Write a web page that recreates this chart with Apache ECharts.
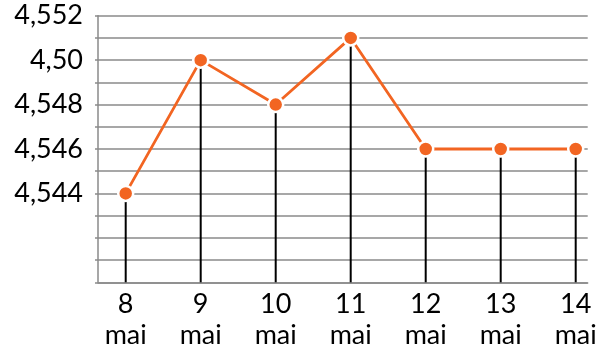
<!DOCTYPE html>
<html>
<head>
<meta charset="utf-8">
<script src="https://cdn.jsdelivr.net/npm/echarts@6/dist/echarts.min.js"></script>
<style>
  html, body { margin: 0; padding: 0; background: #fff; }
  #chart { width: 605px; height: 347px; }
</style>
</head>
<body>
<div id="chart"></div>
<script>
// Daily values, 8–14 May
const categories = ['8\nmai', '9\nmai', '10\nmai', '11\nmai', '12\nmai', '13\nmai', '14\nmai'];
const values = [4.544, 4.550, 4.548, 4.551, 4.546, 4.546, 4.546];

// Y axis range and the labelled ticks
const yMin = 4.540;
const yMax = 4.552;
const yStep = 0.001;
const yTickValues = [4.544, 4.546, 4.548, 4.550, 4.552];
const yTickLabels = ['4,544', '4,546', '4,548', '4,50', '4,552'];

const font = 'Lato, "Open Sans", sans-serif';
const gridColor = '#8a8a8a';
const lineColor = '#f26522';

const chart = echarts.init(document.getElementById('chart'), null, { renderer: 'canvas' });

function yLabel(v) {
  const idx = yTickValues.findIndex(t => Math.abs(t - v) < 1e-7);
  return idx >= 0 ? yTickLabels[idx] : '';
}

const plotTop = 15.7, plotBottom = 347 - 282.3;

chart.setOption({
  animation: false,
  backgroundColor: '#fff',
  grid: [
    // frame with the value axis and horizontal grid lines
    { left: 98, right: 17.3, top: plotTop, bottom: plotBottom, outerBoundsMode: 'none', containLabel: false },
    // plotting area whose ends sit on the first and last day
    { left: 125.7, right: 29.3, top: plotTop, bottom: plotBottom, outerBoundsMode: 'none', containLabel: false }
  ],
  xAxis: [
    {
      gridIndex: 0, type: 'value', min: 0, max: 1,
      axisLine: { show: true, lineStyle: { color: gridColor, width: 1.5 } },
      axisTick: { show: false }, axisLabel: { show: false }, splitLine: { show: false }
    },
    {
      gridIndex: 1, type: 'category', data: categories, boundaryGap: false,
      axisLine: { show: false }, axisTick: { show: false },
      axisLabel: {
        color: '#000', fontFamily: font, fontSize: 27, lineHeight: 31,
        margin: 6, interval: 0
      },
      splitLine: { show: false }
    }
  ],
  yAxis: [
    {
      gridIndex: 0, type: 'value', min: yMin, max: yMax, interval: yStep,
      axisLine: { show: true, lineStyle: { color: gridColor, width: 1.5 } },
      axisTick: { show: true, length: 3, inside: false, lineStyle: { color: gridColor, width: 1.5 } },
      axisLabel: {
        formatter: yLabel, color: '#000', fontFamily: font, fontSize: 27, margin: 15
      },
      splitLine: { show: true, lineStyle: { color: gridColor, width: 1.5 } }
    },
    {
      gridIndex: 1, type: 'value', min: yMin, max: yMax, interval: yStep,
      show: false
    }
  ],
  series: [
    {
      // drop lines from each point to the base
      type: 'bar', xAxisIndex: 1, yAxisIndex: 1,
      data: values, barWidth: 2,
      itemStyle: { color: '#000' },
      silent: true, z: 2
    },
    {
      type: 'line', xAxisIndex: 1, yAxisIndex: 1,
      data: values,
      lineStyle: { color: lineColor, width: 2.8 },
      symbol: 'circle', symbolSize: 15,
      itemStyle: { color: lineColor, borderColor: '#fff', borderWidth: 2.5 },
      z: 3
    }
  ]
});
</script>
</body>
</html>
